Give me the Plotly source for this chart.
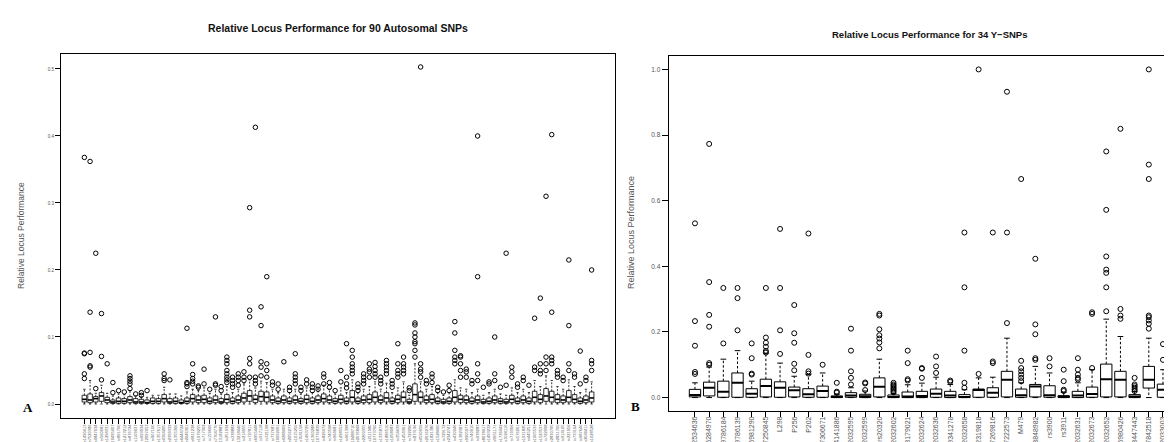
import plotly.graph_objects as go

# ---------------- Panel A: 90 autosomal SNPs ----------------
a_labels = ["rs1490413","rs7520386","rs4847034","rs560681","rs1294331","rs10495407","rs891700","rs1413212",
            "rs876724","rs1109037","rs993934","rs12997453","rs907100","rs1357617","rs4364205","rs2399332",
            "rs1355366","rs6444724","rs2046361","rs6811238","rs1979255","rs717302","rs159606","rs7704770",
            "rs13182883","rs251934","rs338882","rs13218440","rs214955","rs727811","rs6955448","rs917118",
            "rs321198","rs737681","rs10092491","rs4288409","rs2056277","rs1015250","rs7041158","rs1463729",
            "rs1360288","rs10776839","rs826472","rs740598","rs964681","rs1498553","rs901398","rs10488710",
            "rs2076848","rs2269355","rs2111980","rs10773760","rs1335873","rs1886510","rs1058083","rs354439",
            "rs1454361","rs722290","rs873196","rs4530059","rs2016276","rs1821380","rs1528460","rs729172",
            "rs2342747","rs430046","rs1382387","rs9905977","rs740910","rs938283","rs8078417","rs1493232",
            "rs9951171","rs1736442","rs1024116","rs719366","rs576261","rs1031825","rs445251","rs1005533",
            "rs1523537","rs722098","rs2830795","rs2831700","rs914165","rs221956","rs733164","rs987640",
            "rs2040411","rs1028528"]

a_q1 = [0.003,0.002,0.003,0.004,0.002,0.001,0.001,0.001,0.002,0.001,0.001,0.001,0.001,0.001,0.003,0.001,
        0.001,0.001,0.001,0.003,0.002,0.002,0.001,0.002,0.001,0.002,0.001,0.002,0.003,0.004,0.002,0.004,
        0.003,0.002,0.001,0.002,0.001,0.002,0.001,0.002,0.001,0.002,0.003,0.002,0.001,0.002,0.001,0.003,
        0.001,0.002,0.002,0.003,0.002,0.003,0.001,0.002,0.003,0.001,0.004,0.003,0.002,0.002,0.001,0.001,
        0.001,0.003,0.002,0.002,0.001,0.002,0.001,0.001,0.002,0.001,0.001,0.002,0.001,0.002,0.001,0.003,
        0.002,0.004,0.003,0.002,0.002,0.003,0.002,0.001,0.002,0.003]
a_med = [0.007,0.006,0.008,0.012,0.006,0.003,0.004,0.004,0.006,0.003,0.003,0.002,0.004,0.004,0.008,0.003,
         0.004,0.002,0.004,0.008,0.006,0.007,0.004,0.006,0.003,0.007,0.004,0.006,0.009,0.012,0.007,0.011,
         0.010,0.006,0.004,0.006,0.004,0.006,0.004,0.007,0.004,0.006,0.008,0.006,0.004,0.007,0.004,0.010,
         0.004,0.006,0.007,0.010,0.006,0.009,0.004,0.007,0.010,0.003,0.014,0.010,0.006,0.007,0.004,0.003,
         0.004,0.010,0.007,0.006,0.004,0.006,0.003,0.004,0.006,0.004,0.003,0.007,0.004,0.006,0.004,0.010,
         0.007,0.012,0.010,0.007,0.006,0.010,0.007,0.004,0.006,0.009]
a_q3 = [0.013,0.015,0.011,0.017,0.010,0.006,0.009,0.008,0.011,0.008,0.007,0.006,0.009,0.008,0.014,0.008,
        0.009,0.006,0.009,0.014,0.012,0.013,0.009,0.012,0.008,0.014,0.009,0.012,0.016,0.020,0.013,0.019,
        0.018,0.012,0.009,0.012,0.009,0.012,0.008,0.013,0.009,0.012,0.015,0.012,0.008,0.013,0.009,0.020,
        0.009,0.012,0.014,0.018,0.012,0.017,0.009,0.013,0.018,0.007,0.030,0.018,0.012,0.014,0.009,0.007,
        0.009,0.020,0.013,0.012,0.009,0.012,0.007,0.009,0.012,0.008,0.007,0.013,0.009,0.012,0.009,0.019,
        0.014,0.023,0.019,0.014,0.012,0.020,0.014,0.009,0.012,0.018]
a_hi = [0.022,0.035,0.016,0.028,0.016,0.012,0.015,0.014,0.020,0.012,0.011,0.010,0.013,0.013,0.025,0.015,
        0.015,0.012,0.018,0.022,0.020,0.024,0.016,0.022,0.015,0.026,0.017,0.022,0.030,0.036,0.024,0.034,
        0.032,0.022,0.017,0.022,0.017,0.022,0.015,0.024,0.017,0.022,0.028,0.022,0.015,0.024,0.017,0.036,
        0.017,0.022,0.026,0.033,0.022,0.031,0.017,0.024,0.033,0.013,0.060,0.033,0.022,0.026,0.017,0.013,
        0.017,0.036,0.024,0.022,0.017,0.022,0.013,0.017,0.022,0.015,0.013,0.024,0.017,0.022,0.017,0.035,
        0.026,0.042,0.035,0.026,0.022,0.036,0.026,0.017,0.022,0.033]
a_out = [[0.038,0.045,0.075,0.076,0.368],[0.055,0.057,0.077,0.137,0.362],[0.023,0.225],[0.036,0.071,0.135],
         [0.060],[0.017,0.032],[0.020],[0.018],[0.023,0.030,0.034,0.038,0.042],[0.015],[0.013,0.017],[0.020],
         [],[],[0.035,0.038,0.045],[0.036],[],[],[0.026,0.030,0.032,0.113],[0.030,0.034,0.038,0.044,0.060],
         [0.025,0.027],[0.030,0.052],[0.022],[0.028,0.030,0.130],[0.020,0.026],[0.032,0.036,0.040,0.045,0.050,0.060,0.065,0.070],
         [0.025,0.030,0.035,0.040],[0.028,0.035,0.040,0.045],[0.035,0.040,0.048],[0.040,0.060,0.068,0.130,0.140,0.293],
         [0.030,0.035,0.040,0.413],[0.042,0.055,0.063,0.117,0.145],[0.040,0.050,0.060,0.190],[0.028,0.033],
         [0.022,0.030],[0.063],[0.020,0.025],[0.030,0.035,0.040,0.045,0.075],[0.020,0.025],[0.030,0.036],
         [0.020,0.025,0.030],[0.022,0.027],[0.030,0.040,0.045],[0.025,0.032],[0.020],[0.033,0.050],
         [0.024,0.030,0.040,0.090],[0.045,0.050,0.055,0.060,0.070,0.080],[0.020,0.025,0.030],[0.030,0.035,0.040,0.045],
         [0.040,0.048,0.052,0.060],[0.040,0.045,0.050,0.056,0.062],[0.030,0.035,0.040],[0.045,0.050,0.055,0.060,0.065],
         [0.025,0.030,0.035],[0.040,0.045,0.050,0.060,0.090],[0.045,0.050,0.055,0.060,0.070],[0.020,0.024],
         [0.070,0.080,0.090,0.093,0.100,0.106,0.118,0.121],[0.040,0.048,0.052,0.060,0.503],[0.030,0.035],[0.032,0.040,0.045],
         [0.020,0.025],[0.018],[0.020,0.028],[0.060,0.065,0.070,0.080,0.106,0.123],[0.040,0.050,0.060,0.070,0.072],
         [0.040,0.048,0.052],[0.030,0.035],[0.035,0.045,0.060,0.190,0.400],[0.025],[0.030,0.033],[0.035,0.045,0.100],
         [0.025],[0.028,0.225],[0.040,0.048,0.055],[0.025,0.030],[0.035,0.040],[0.028],[0.050,0.055,0.128],
         [0.045,0.050,0.060,0.158],[0.050,0.060,0.070,0.310],[0.060,0.065,0.070,0.137,0.402],[0.040,0.045,0.050],
         [0.035,0.040],[0.050,0.060,0.117,0.215],[0.040,0.045],[0.030,0.079],[0.035,0.040],[0.050,0.060,0.065,0.200]]

# ---------------- Panel B: 34 Y-SNPs ----------------
b_labels = ["rs2534636","rs35284970","rs9786184","rs9786139","rs16981290","rs17250845","L298","P256","P202",
            "rs17306671","rs4141886","rs2032595","rs2032599","rs20320","rs2032602","rs8179021","rs2032624",
            "rs2032636","rs9341278","rs2032658","rs2319818","rs17269816","rs17222573","M479","rs3848982",
            "rs3900","rs3911","rs2032631","rs2032673","rs2032652","rs16980426","rs13447443","rs17842518","rs2033003"]
b_q1 = [0.002,0.005,0.001,0.001,0.001,0.002,0.001,0.002,0.001,0.001,0.000,0.001,0.000,0.002,0.000,0.000,0.000,
        0.001,0.000,0.000,0.001,0.001,0.002,0.001,0.002,0.001,0.000,0.000,0.001,0.002,0.002,0.000,0.029,0.001]
b_med = [0.008,0.030,0.018,0.045,0.012,0.035,0.030,0.022,0.010,0.020,0.002,0.006,0.004,0.033,0.002,0.003,0.005,
         0.012,0.006,0.002,0.023,0.015,0.054,0.007,0.034,0.007,0.002,0.006,0.011,0.056,0.054,0.003,0.054,0.024]
b_q3 = [0.025,0.047,0.050,0.075,0.027,0.056,0.048,0.032,0.027,0.035,0.005,0.015,0.010,0.060,0.008,0.017,0.019,
        0.026,0.019,0.009,0.026,0.030,0.080,0.026,0.040,0.036,0.006,0.019,0.032,0.102,0.080,0.009,0.095,0.041]
b_hi = [0.045,0.093,0.117,0.143,0.050,0.135,0.105,0.065,0.070,0.075,0.010,0.030,0.020,0.117,0.012,0.039,0.044,
        0.062,0.040,0.024,0.060,0.062,0.181,0.045,0.095,0.075,0.016,0.045,0.085,0.239,0.186,0.018,0.181,0.085]
b_out = [[0.072,0.078,0.158,0.233,0.531],[0.100,0.105,0.216,0.252,0.352,0.773],[0.165,0.334],[0.205,0.303,0.334],
         [0.070,0.073,0.120,0.165],[0.137,0.142,0.155,0.167,0.183,0.334],[0.133,0.205,0.334,0.514],
         [0.083,0.103,0.167,0.196,0.282],[0.073,0.080,0.130,0.500],[0.100],[0.015,0.018,0.045],
         [0.040,0.060,0.080,0.143,0.210],[0.023,0.043,0.046],[0.150,0.168,0.180,0.190,0.208,0.250,0.255],
         [0.016,0.020,0.024,0.028,0.032,0.036,0.040,0.045],[0.052,0.056,0.105,0.143],[0.060,0.088,0.090],
         [0.075,0.095,0.125],[0.048,0.052],[0.030,0.045,0.143,0.336,0.503],[0.072,1.000],[0.105,0.110,0.503],
         [0.227,0.503,0.932],[0.050,0.060,0.070,0.080,0.090,0.112,0.666],[0.115,0.120,0.193,0.223,0.423],
         [0.095,0.120],[0.020,0.024,0.050,0.085],[0.055,0.060,0.070,0.085,0.120],[0.090,0.255,0.260],
         [0.263,0.336,0.380,0.390,0.430,0.572,0.750],[0.240,0.250,0.270,0.819],[0.020,0.025,0.030,0.035,0.040,0.060],
         [0.210,0.225,0.235,0.245,0.250,0.666,0.710,1.000],[0.115,0.163]]

BW = 0.4      # half box width (R boxwex 0.8)
SW = 0.2      # half staple width


def box_traces(q1, med, q3, hi, out, xa, ya, lw, medw, dash, msize):
    n = len(q1)
    bx, by, mx, my, wx, wy, sx, sy, ox, oy = [], [], [], [], [], [], [], [], [], []
    for i in range(n):
        p = i + 1
        bx += [p - BW, p + BW, p + BW, p - BW, p - BW, None]
        by += [q1[i], q1[i], q3[i], q3[i], q1[i], None]
        mx += [p - BW, p + BW, None]
        my += [med[i], med[i], None]
        lo = 0.0
        wx += [p, p, None, p, p, None]
        wy += [q3[i], hi[i], None, q1[i], lo, None]
        sx += [p - SW, p + SW, None, p - SW, p + SW, None]
        sy += [hi[i], hi[i], None, lo, lo, None]
        for v in out[i]:
            ox.append(p)
            oy.append(v)
    common = dict(xaxis=xa, yaxis=ya, hoverinfo="skip", showlegend=False)
    return [
        go.Scatter(x=wx, y=wy, mode="lines", line=dict(color="black", width=lw, dash=dash), **common),
        go.Scatter(x=sx, y=sy, mode="lines", line=dict(color="black", width=lw), **common),
        go.Scatter(x=bx, y=by, mode="lines", line=dict(color="black", width=lw), **common),
        go.Scatter(x=mx, y=my, mode="lines", line=dict(color="black", width=medw), **common),
        go.Scatter(x=ox, y=oy, mode="markers",
                   marker=dict(symbol="circle-open", size=msize, color="black", line=dict(width=1)), **common),
    ]


fig = go.Figure()
for t in box_traces(a_q1, a_med, a_q3, a_hi, a_out, "x", "y", 0.8, 1.6, "2px,1.5px", 4.5):
    fig.add_trace(t)
for t in box_traces(b_q1, b_med, b_q3, b_hi, b_out, "x2", "y2", 1.0, 2.0, "2.5px,2px", 5):
    fig.add_trace(t)

W, H = 1172, 442
FONT = "Liberation Sans, Arial, Helvetica, sans-serif"

fig.update_layout(
    width=W, height=H,
    margin=dict(l=0, r=0, t=0, b=0),
    paper_bgcolor="white", plot_bgcolor="white",
    font=dict(family=FONT, color="#222"),
    xaxis=dict(domain=[53 / W, 607 / W], range=[-3.1, 94.1], showgrid=False, zeroline=False,
               showline=True, mirror=True, linecolor="black", linewidth=1,
               ticks="outside", ticklen=5, tickwidth=0.8, tickcolor="black",
               tickmode="array", tickvals=list(range(1, len(a_labels) + 1)), ticktext=a_labels,
               tickangle=-90, tickfont=dict(size=4, color="#555"), automargin=False,
               ticklabelstandoff=-1),
    yaxis=dict(domain=[(H - 410) / H, (H - 45.5) / H], range=[-0.0209, 0.5231], showgrid=False, zeroline=False,
               showline=True, mirror=True, linecolor="black", linewidth=1,
               ticks="outside", ticklen=5, tickwidth=0.8, tickcolor="black",
               tickmode="array", tickvals=[0, 0.1, 0.2, 0.3, 0.4, 0.5],
               ticktext=["0.0", "0.1", "0.2", "0.3", "0.4", "0.5"],
               tickfont=dict(size=4.5, color="#555"), automargin=False),
    xaxis2=dict(domain=[660.6 / W, 1.0], range=[-0.86, 35.2], showgrid=False, zeroline=False,
                showline=True, mirror=True, linecolor="black", linewidth=1,
                ticks="outside", ticklen=5, tickwidth=1, tickcolor="black",
                tickmode="array", tickvals=list(range(1, len(b_labels) + 1)), ticktext=b_labels,
                tickangle=-90, tickfont=dict(size=7, color="#555"), automargin=False, anchor="y2",
                ticklabelstandoff=-3),
    yaxis2=dict(domain=[(H - 402.7) / H, (H - 48.3) / H], range=[-0.04, 1.04], showgrid=False, zeroline=False,
                showline=True, mirror=False, linecolor="black", linewidth=1,
                ticks="outside", ticklen=6, tickwidth=1, tickcolor="black",
                tickmode="array", tickvals=[0, 0.2, 0.4, 0.6, 0.8, 1.0],
                ticktext=["0.0", "0.2", "0.4", "0.6", "0.8", "1.0"],
                tickfont=dict(size=6.5, color="#555"), automargin=False, anchor="x2"),
)

ann = [
    dict(text="<b>Relative Locus Performance for 90 Autosomal SNPs</b>", x=330 / W, y=1 - 20 / H,
         font=dict(size=10.5, color="#111")),
    dict(text="<b>Relative Locus Performance for 34 Y\u2212SNPs</b>", x=921 / W, y=1 - 26 / H,
         font=dict(size=9.5, color="#111")),
    dict(text="Relative Locus Performance", x=13 / W, y=1 - 228 / H, textangle=-90,
         font=dict(size=8.5, color="#555")),
    dict(text="Relative Locus Performance", x=623 / W, y=1 - 225 / H, textangle=-90,
         font=dict(size=9, color="#555")),
    dict(text="<b>A</b>", x=20 / W, y=1 - 399 / H,
         font=dict(size=13, color="black", family="Liberation Serif, Times New Roman, serif")),
    dict(text="<b>B</b>", x=627 / W, y=1 - 398 / H,
         font=dict(size=13, color="black", family="Liberation Serif, Times New Roman, serif")),
]
for a in ann:
    fig.add_annotation(xref="paper", yref="paper", showarrow=False, xanchor="center", yanchor="middle", **a)

fig.write_html("out.html")
